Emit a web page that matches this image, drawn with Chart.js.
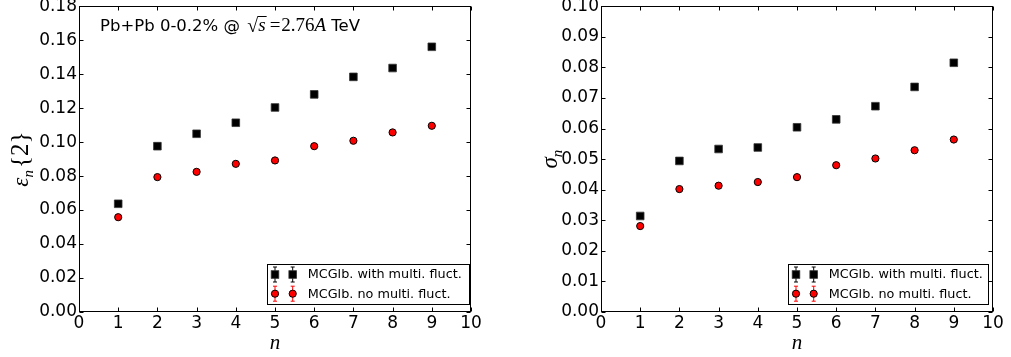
<!DOCTYPE html>
<html>
<head>
<meta charset="utf-8">
<script src="https://cdn.jsdelivr.net/npm/chart.js@4"></script>
<style>
  html, body { margin:0; padding:0; background:#fff; }
  body { width:1011px; height:357px; position:relative; overflow:hidden; }
  .box { position:absolute; top:0; height:357px; }
</style>
</head>
<body>
<div class="box" style="left:0;width:505px"><canvas id="c1"></canvas></div>
<div class="box" style="left:505px;width:506px"><canvas id="c2"></canvas></div>
<script>
// ---- data ----
const nValues = [1, 2, 3, 4, 5, 6, 7, 8, 9];
const epsWithMult = [0.0637, 0.0976, 0.1049, 0.1114, 0.1204, 0.1281, 0.1384, 0.1436, 0.1561];
const epsNoMult   = [0.0558, 0.0794, 0.0825, 0.0872, 0.0892, 0.0976, 0.1008, 0.1057, 0.1096];
const sigmaWithMult = [0.0314, 0.0494, 0.0533, 0.0538, 0.0604, 0.0630, 0.0673, 0.0736, 0.0815];
const sigmaNoMult   = [0.0281, 0.0402, 0.0413, 0.0425, 0.0441, 0.0480, 0.0502, 0.0529, 0.0564];
const seriesLabels = ['MCGlb. with multi. fluct.', 'MCGlb. no multi. fluct.'];
const xTickValues = [0, 1, 2, 3, 4, 5, 6, 7, 8, 9, 10];
const epsTickStep = 0.02, epsMax = 0.18;
const sigmaTickStep = 0.01, sigmaMax = 0.10;

const SANS = "'DejaVu Sans', sans-serif";
const SERIF = "'Liberation Serif', 'DejaVu Serif', serif";

function pts(xs, ys) { return xs.map((x, i) => ({ x: x, y: ys[i] })); }

function drawMarker(ctx, kind, x, y) {
  ctx.save();
  if (kind === 'rect') {
    ctx.fillStyle = '#000';
    ctx.strokeStyle = '#333';
    ctx.lineWidth = 0.8;
    ctx.fillRect(x - 3.8, y - 3.8, 7.6, 7.6);
    ctx.strokeRect(x - 3.8, y - 3.8, 7.6, 7.6);
  } else {
    ctx.beginPath();
    ctx.arc(x, y, 3.6, 0, Math.PI * 2);
    ctx.fillStyle = '#ff0000';
    ctx.fill();
    ctx.strokeStyle = '#000';
    ctx.lineWidth = 1;
    ctx.stroke();
  }
  ctx.restore();
}

const framePlugin = {
  id: 'frame',
  afterDraw(chart, args, opts) {
    const ctx = chart.ctx;
    const a = chart.chartArea;
    const xs = chart.scales.x, ys = chart.scales.y;
    ctx.save();
    ctx.strokeStyle = '#000';
    ctx.lineWidth = 1;
    const L = Math.round(a.left) + 0.5, R = Math.round(a.right) - 0.5;
    const T = Math.round(a.top) + 0.5, B = Math.round(a.bottom) - 0.5;
    ctx.strokeRect(L, T, R - L, B - T);
    ctx.beginPath();
    const tl = 4;
    xTickValues.forEach(v => {
      const px = Math.round(xs.getPixelForValue(v)) + 0.5;
      ctx.moveTo(px, B); ctx.lineTo(px, B - tl);
      ctx.moveTo(px, T); ctx.lineTo(px, T + tl);
    });
    ys.ticks.forEach(t => {
      const py = Math.round(ys.getPixelForValue(t.value)) + 0.5;
      ctx.moveTo(L, py); ctx.lineTo(L + tl, py);
      ctx.moveTo(R, py); ctx.lineTo(R - tl, py);
    });
    ctx.stroke();

    // axis titles
    ctx.fillStyle = '#000';
    ctx.font = "italic 21px " + SERIF;
    ctx.textAlign = 'center';
    ctx.textBaseline = 'alphabetic';
    ctx.fillText('n', (a.left + a.right) / 2, 349);

    // y title (rotated)
    ctx.save();
    ctx.translate(opts.yTitleX, (a.top + a.bottom) / 2);
    ctx.rotate(-Math.PI / 2);
    const parts = opts.yTitle;
    let total = 0;
    parts.forEach(p => { ctx.font = p.font; total += ctx.measureText(p.t).width + (p.gap || 0); });
    let cx = -total / 2;
    ctx.textAlign = 'left';
    parts.forEach(p => {
      ctx.font = p.font;
      ctx.fillText(p.t, cx, p.dy || 0);
      cx += ctx.measureText(p.t).width + (p.gap || 0);
    });
    ctx.restore();

    // legend
    const lg = opts.legend;
    const bx = a.right - lg.dxRight - lg.w, by = a.bottom - lg.dyBottom - lg.h;
    ctx.fillStyle = '#fff';
    ctx.fillRect(bx, by, lg.w, lg.h);
    ctx.strokeStyle = '#000';
    ctx.lineWidth = 1;
    ctx.strokeRect(Math.round(bx) + 0.5, Math.round(by) + 0.5, lg.w, lg.h);
    const kinds = ['rect', 'circle'];
    const cols = ['#000', '#ff0000'];
    for (let i = 0; i < 2; i++) {
      const cy = by + 10.5 + i * 19.2;
      [8, 25.7].forEach(dx => {
        const mx = bx + dx;
        ctx.strokeStyle = cols[i];
        ctx.lineWidth = 1;
        ctx.beginPath();
        ctx.moveTo(mx, cy - 7.5); ctx.lineTo(mx, cy + 7.5);
        ctx.moveTo(mx - 2, cy - 7.5); ctx.lineTo(mx + 2, cy - 7.5);
        ctx.moveTo(mx - 2, cy + 7.5); ctx.lineTo(mx + 2, cy + 7.5);
        ctx.stroke();
        drawMarker(ctx, kinds[i], mx, cy);
      });
      ctx.fillStyle = '#000';
      ctx.font = "12.8px " + SANS;
      ctx.textAlign = 'left';
      ctx.textBaseline = 'middle';
      ctx.fillText(seriesLabels[i], bx + 40.7, cy + 0.5);
    }

    // annotation
    if (opts.annotate) {
      ctx.textBaseline = 'alphabetic';
      ctx.textAlign = 'left';
      let x = a.left + 21;
      const y = 31;
      ctx.font = "16.5px " + SANS;
      ctx.fillText('Pb+Pb 0-0.2% @ ', x, y);
      x += ctx.measureText('Pb+Pb 0-0.2% @ ').width + 2;
      ctx.font = "20px " + SERIF;
      ctx.fillText('\u221A', x, y + 1);
      const sqW = ctx.measureText('\u221A').width;
      x += sqW;
      ctx.font = "italic 19px " + SERIF;
      const sW = ctx.measureText('s').width;
      ctx.fillText('s', x, y);
      ctx.lineWidth = 1;
      ctx.strokeStyle = '#000';
      ctx.beginPath();
      ctx.moveTo(x - 0.5, y - 14.5); ctx.lineTo(x + sW + 1, y - 14.5);
      ctx.stroke();
      x += sW + 4;
      ctx.font = "19px " + SERIF;
      ctx.fillText('=', x, y);
      x += ctx.measureText('=').width + 1;
      ctx.fillText('2.76', x, y);
      x += ctx.measureText('2.76').width;
      ctx.font = "italic 19px " + SERIF;
      ctx.fillText('A', x, y);
      x += ctx.measureText('A').width + 5;
      ctx.font = "16.5px " + SANS;
      ctx.fillText('TeV', x, y);
    }
    ctx.restore();
  }
};

function makeChart(id, withVals, noVals, yMax, yStep, pad, yWidth, opts) {
  return new Chart(document.getElementById(id), {
    type: 'scatter',
    data: {
      datasets: [
        { label: seriesLabels[0], data: pts(nValues, withVals), pointStyle: 'rect',
          pointRadius: 5.4, pointHoverRadius: 5.4, backgroundColor: '#000', borderColor: '#333', borderWidth: 0.8 },
        { label: seriesLabels[1], data: pts(nValues, noVals), pointStyle: 'circle',
          pointRadius: 3.6, pointHoverRadius: 3.6, backgroundColor: '#ff0000', borderColor: '#000', borderWidth: 1 }
      ]
    },
    options: {
      responsive: true,
      maintainAspectRatio: false,
      animation: false,
      events: [],
      layout: { padding: pad },
      plugins: { legend: { display: false }, tooltip: { enabled: false }, frame: opts },
      scales: {
        x: {
          type: 'linear', min: 0, max: 10,
          ticks: { stepSize: 1, color: '#000', font: { family: SANS, size: 17 }, padding: 1, maxRotation: 0, autoSkip: false },
          grid: { display: false, drawTicks: false },
          border: { display: false },
          afterFit(s) { s.height = 45; s.paddingLeft = 0; s.paddingRight = 0; s.paddingTop = 0; s.paddingBottom = 0; }
        },
        y: {
          type: 'linear', min: 0, max: yMax,
          ticks: { stepSize: yStep, color: '#000', font: { family: SANS, size: 17 }, padding: 2,
                   callback: v => v.toFixed(2), autoSkip: false },
          grid: { display: false, drawTicks: false },
          border: { display: false },
          afterFit(s) { s.width = yWidth; s.paddingLeft = 0; s.paddingRight = 0; s.paddingTop = 0; s.paddingBottom = 0; }
        }
      }
    },
    plugins: [framePlugin]
  });
}

makeChart('c1', epsWithMult, epsNoMult, epsMax, epsTickStep,
  { left: 0, right: 34, top: 6, bottom: 0 }, 79,
  { yTitleX: 28,
    yTitle: [
      { t: '\u03B5', font: "italic 23px " + SERIF },
      { t: 'n', font: "italic 15px " + SERIF, dy: 5, gap: 2 },
      { t: '{2}', font: "25px " + SERIF }
    ],
    legend: { w: 202, h: 40, dxRight: 2, dyBottom: 8 },
    annotate: true });

makeChart('c2', sigmaWithMult, sigmaNoMult, sigmaMax, sigmaTickStep,
  { left: 0, right: 18, top: 6, bottom: 0 }, 96,
  { yTitleX: 52,
    yTitle: [
      { t: '\u03C3', font: "italic 23px " + SERIF },
      { t: 'n', font: "italic 15px " + SERIF, dy: 5 }
    ],
    legend: { w: 200, h: 40, dxRight: 5, dyBottom: 8 },
    annotate: false });
</script>
</body>
</html>
